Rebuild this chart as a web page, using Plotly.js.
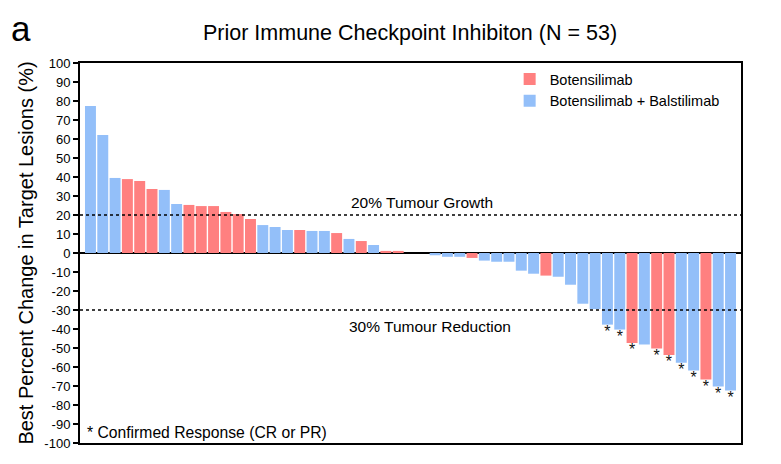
<!DOCTYPE html>
<html>
<head>
<meta charset="utf-8">
<script src="https://cdn.plot.ly/plotly-3.0.1.min.js"></script>
<style>html,body{margin:0;padding:0;background:#fff;}#chart{width:781px;height:464px;}</style>
</head>
<body>
<div id="chart"></div>
<script>
// Best percent change in target lesions, one value per patient (sorted waterfall)
const changes = [77.4, 62.1, 39.5, 38.9, 37.9, 33.7, 33.2, 25.8, 25.3, 24.7,
                 24.7, 21.6, 20.5, 17.9, 14.7, 13.7, 12.1, 12.1, 11.6, 11.6,
                 10.5, 7.4, 6.3, 4.2, 1.1, 1.1, 0, 0, -1.2, -2.0,
                 -2.0, -2.6, -4.0, -4.6, -4.6, -9.3, -10.9, -11.9, -12.5, -16.7,
                 -26.7, -29.5, -37.7, -40.3, -47.4, -48.2, -50.3, -53.7, -57.7, -61.9,
                 -66.6, -70.3, -72.4];
// Treatment arm: "B" = Botensilimab, "BB" = Botensilimab + Balstilimab
const arms = ["BB","BB","BB","B","B","B","BB","BB","B","B",
              "B","B","B","B","BB","BB","BB","B","BB","BB",
              "B","BB","B","BB","B","B","BB","BB","BB","BB",
              "BB","B","BB","BB","BB","BB","BB","B","BB","BB",
              "BB","BB","BB","BB","B","BB","B","B","BB","BB",
              "B","BB","BB"];
// Confirmed response (CR or PR) marker
const confirmed = [0,0,0,0,0,0,0,0,0,0,
                   0,0,0,0,0,0,0,0,0,0,
                   0,0,0,0,0,0,0,0,0,0,
                   0,0,0,0,0,0,0,0,0,0,
                   0,0,1,1,1,0,1,1,1,1,
                   1,1,1];
const armNames = {B: "Botensilimab", BB: "Botensilimab + Balstilimab"};
const armColors = {B: "#FF8080", BB: "#93BFF9"};
const yTicks = [100,90,80,70,60,50,40,30,20,10,0,-10,-20,-30,-40,-50,-60,-70,-80,-90,-100];
const growthLine = 20, reductionLine = -30;

const FONT = "Arial, 'Liberation Sans', sans-serif";
const idx = changes.map((v, i) => i);

function armTrace(code) {
  const xs = [], ys = [];
  idx.forEach(i => { if (arms[i] === code) { xs.push(i); ys.push(changes[i]); } });
  return {
    type: "bar", x: xs, y: ys, name: armNames[code],
    marker: {color: armColors[code], line: {width: 0}},
    width: 0.89, hoverinfo: "y"
  };
}
const starX = [], starY = [];
idx.forEach(i => { if (confirmed[i]) { starX.push(i); starY.push(changes[i]); } });
const stars = {
  type: "scatter", mode: "text", x: starX, y: starY,
  text: starX.map(() => "*"), textposition: "bottom center",
  textfont: {family: FONT, size: 16, color: "#111"},
  showlegend: false, hoverinfo: "skip", cliponaxis: false
};

const data = [armTrace("B"), armTrace("BB"), stars];

const layout = {
  width: 781, height: 464,
  margin: {l: 80, r: 40, t: 63, b: 21},
  paper_bgcolor: "#fff", plot_bgcolor: "#fff",
  font: {family: FONT, color: "#000"},
  barmode: "overlay",
  showlegend: true,
  legend: {x: 0.65, y: 1.0, xanchor: "left", yanchor: "top",
           font: {family: FONT, size: 14.5, color: "#000"},
           bgcolor: "rgba(0,0,0,0)", traceorder: "normal", tracegroupgap: 0},
  xaxis: {range: [-0.85, 52.85], showticklabels: false, ticks: "", showgrid: false,
          zeroline: false, showline: true, linecolor: "#000", linewidth: 2, mirror: true,
          fixedrange: true},
  yaxis: {range: [-100, 100], tickvals: yTicks, ticktext: yTicks.map(String),
          ticks: "outside", ticklen: 5, tickwidth: 1.5, tickcolor: "#000",
          tickfont: {family: FONT, size: 13, color: "#000"},
          showgrid: false, zeroline: true, zerolinecolor: "#000", zerolinewidth: 2,
          showline: true, linecolor: "#000", linewidth: 2, mirror: true,
          title: {text: "Best Percent Change in Target Lesions (%)", font: {family: FONT, size: 20, color: "#000"}, standoff: 5},
          fixedrange: true},
  title: {text: "Prior Immune Checkpoint Inhibiton (N = 53)", font: {family: FONT, size: 21.5, color: "#000"},
          x: 0.525, xanchor: "center", y: 0.93, yanchor: "middle"},
  shapes: [
    {type: "line", xref: "paper", x0: 0, x1: 1, yref: "y", y0: growthLine, y1: growthLine,
     line: {color: "#000", width: 1.5, dash: "dot"}},
    {type: "line", xref: "paper", x0: 0, x1: 1, yref: "y", y0: reductionLine, y1: reductionLine,
     line: {color: "#000", width: 1.5, dash: "dot"}}
  ],
  annotations: [
    {text: "20% Tumour Growth", xref: "paper", x: 0.518, yref: "y", y: 26.6,
     showarrow: false, font: {family: FONT, size: 15.5, color: "#000"}, xanchor: "center", yanchor: "middle"},
    {text: "30% Tumour Reduction", xref: "paper", x: 0.530, yref: "y", y: -38.5,
     showarrow: false, font: {family: FONT, size: 15.5, color: "#000"}, xanchor: "center", yanchor: "middle"},
    {text: "* Confirmed Response (CR or PR)", xref: "paper", x: 0.008, yref: "y", y: -94.5,
     showarrow: false, font: {family: FONT, size: 15.7, color: "#000"}, xanchor: "left", yanchor: "middle"},
    {text: "a", xref: "paper", x: -0.107, yref: "paper", y: 1.092, showarrow: false,
     font: {family: FONT, size: 35, color: "#000"}, xanchor: "left", yanchor: "middle"}
  ]
};

Plotly.newPlot("chart", data, layout, {displayModeBar: false, staticPlot: true});
</script>
</body>
</html>
